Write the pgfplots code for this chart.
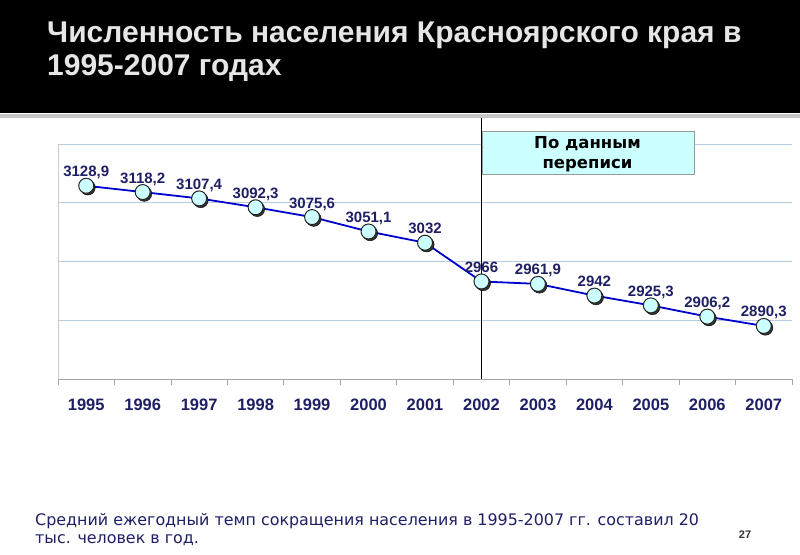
\documentclass[border=0pt]{standalone}
\usepackage{fontspec}
\setmainfont{Liberation Sans}
\newfontfamily\dejavu{DejaVu Sans}
\usepackage{pgfplots}
\usepackage{pgfplotstable}
\pgfplotsset{compat=1.18}

\definecolor{navy}{HTML}{1F1F66}
\definecolor{gridblue}{HTML}{B9CDE5}
\definecolor{lineblue}{HTML}{0000CC}
\definecolor{markfill}{HTML}{CCFFFF}
\definecolor{titlegray}{HTML}{E6E6E6}

\pgfplotstableread{
x y lab
0 3128.9 3128,9
1 3118.2 3118,2
2 3107.4 3107,4
3 3092.3 3092,3
4 3075.6 3075,6
5 3051.1 3051,1
6 3032.0 3032
7 2966.0 2966
8 2961.9 2961,9
9 2942.0 2942
10 2925.3 2925,3
11 2906.2 2906,2
12 2890.3 2890,3
}\popdata

\begin{document}
\begin{tikzpicture}
% page and title bar
\fill[white] (0,0) rectangle (800pt,-554pt);
\fill[black] (0,0) rectangle (800pt,-113pt);
\fill[gray!45] (0,-114pt) rectangle (800pt,-118pt);
\node[anchor=base west, inner sep=0, text=titlegray, font=\fontsize{30}{34}\selectfont\bfseries]
  at (47pt,-42pt) {Численность населения Красноярского края в};
\node[anchor=base west, inner sep=0, text=titlegray, font=\fontsize{30}{34}\selectfont\bfseries]
  at (47pt,-75pt) {1995-2007 годах};

\begin{axis}[
    at={(58pt,-379pt)}, anchor=south west,
    scale only axis, width=734pt, height=235pt,
    clip=false,
    xmin=-0.5, xmax=12.5, ymin=2800, ymax=3200,
    axis x line*=bottom, axis y line*=left,
    x axis line style={draw=gray!70, line width=1pt},
    y axis line style={draw=gray!40, line width=1pt},
    xtick={0,...,12},
    xticklabels={1995,1996,1997,1998,1999,2000,2001,2002,2003,2004,2005,2006,2007},
    major x tick style={draw=none},
    major tick length=0pt,
    minor xtick={-0.5,0.5,...,12.5},
    minor x tick style={draw=gray!70, line width=0.8pt},
    minor tick length=6pt, tick align=outside,
    xticklabel style={anchor=base, font=\fontsize{16.5}{18}\selectfont\bfseries, text=navy, yshift=-31pt},
    ytick={2800,2900,...,3200}, yticklabels={},
    major y tick style={draw=none},
    ymajorgrids, grid style={draw=gridblue, line width=1pt},
    point meta=explicit symbolic,
]
\addplot[lineblue, line width=1.8pt, mark=none] table[x=x, y=y] {\popdata};
\addplot[only marks, mark=*, mark size=7.5pt,
         mark options={draw=none, fill=black!80, xshift=1.6pt, yshift=-1.8pt}]
  table[x=x, y=y] {\popdata};
\addplot[only marks, mark=*, mark size=7.5pt,
         mark options={draw=black!85, fill=markfill, line width=1pt},
         nodes near coords,
         nodes near coords style={anchor=base, yshift=9pt,
           font=\fontsize{15}{16}\selectfont\bfseries, text=navy}]
  table[x=x, y=y, meta=lab] {\popdata};
\draw[black, line width=0.6pt] (axis cs:7,2800) -- (axis cs:7,3200) -- ++(0pt,26pt);
\end{axis}

% census box
\draw[fill=markfill, draw=gray!80, line width=0.8pt] (482pt,-131pt) rectangle (694pt,-174pt);
\node[anchor=base, inner sep=0, font=\dejavu\fontsize{16.5}{20}\selectfont\bfseries]
  at (587.5pt,-148pt) {По данным};
\node[anchor=base, inner sep=0, font=\dejavu\fontsize{16.5}{20}\selectfont\bfseries]
  at (587.5pt,-168pt) {переписи};

% note
\node[anchor=base west, inner sep=0, text=navy, font=\dejavu\fontsize{15.9}{20}\selectfont]
  at (35pt,-525pt) {Средний ежегодный темп сокращения населения в 1995-2007 гг. составил 20};
\node[anchor=base west, inner sep=0, text=navy, font=\dejavu\fontsize{15.9}{20}\selectfont]
  at (35pt,-543pt) {тыс. человек в год.};
\node[anchor=base, inner sep=0, text=black!80, font=\fontsize{11}{12}\selectfont\bfseries]
  at (745pt,-538pt) {27};
\end{tikzpicture}
\end{document}
